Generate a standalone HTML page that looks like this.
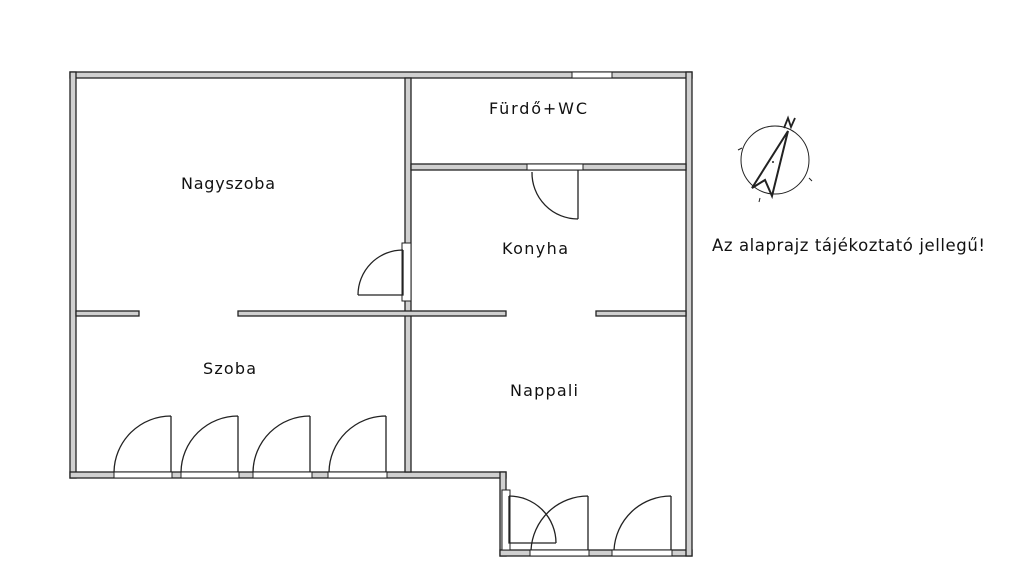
<!DOCTYPE html>
<html><head><meta charset="utf-8"><style>
html,body{margin:0;padding:0;background:#fff;}
svg{display:block;}
text{font-family:"DejaVu Sans","Liberation Sans",sans-serif;fill:#111;}
</style></head><body>
<svg width="1024" height="572" viewBox="0 0 1024 572" xmlns="http://www.w3.org/2000/svg">
<g fill="#d0d0d0" stroke="#222" stroke-width="1.3">
<rect x="70" y="72" width="622" height="6"/>
<rect x="70" y="72" width="6" height="406"/>
<rect x="70" y="472" width="436" height="6"/>
<rect x="500" y="472" width="6" height="84"/>
<rect x="500" y="550" width="192" height="6"/>
<rect x="686" y="72" width="6" height="484"/>
<rect x="405" y="78" width="6" height="394"/>
<rect x="411" y="164" width="275" height="6"/>
<rect x="76" y="311" width="63" height="5"/>
<rect x="238" y="311" width="268" height="5"/>
<rect x="596" y="311" width="90" height="5"/>
</g>
<g fill="#fff" stroke="#222" stroke-width="1">
<rect x="572" y="72" width="40" height="6"/>
<rect x="527" y="164" width="56" height="6"/>
<rect x="402" y="243" width="9" height="58"/>
<rect x="114" y="472" width="58" height="6"/>
<rect x="181" y="472" width="58" height="6"/>
<rect x="253" y="472" width="59" height="6"/>
<rect x="328" y="472" width="59" height="6"/>
<rect x="530" y="550" width="59" height="6"/>
<rect x="612" y="550" width="60" height="6"/>
<rect x="502" y="490" width="8" height="60"/>
</g>
<g fill="none" stroke="#222" stroke-width="1.3">
<path d="M358 295 H403 V250"/>
<path d="M358 295 A45 45 0 0 1 403 250"/>
<path d="M578 170 V219"/>
<path d="M532 172 A46 46 0 0 0 578 219"/>
<path d="M171 472 V416 M114 472 A57 57 0 0 1 171 416"/>
<path d="M238 472 V416 M181 472 A57 57 0 0 1 238 416"/>
<path d="M310 472 V416 M253 472 A57 57 0 0 1 310 416"/>
<path d="M386 472 V416 M329 472 A57 57 0 0 1 386 416"/>
<path d="M588 550 V496 M531 550 A57 57 0 0 1 588 496"/>
<path d="M671 550 V496 M614 550 A57 57 0 0 1 671 496"/>
<path d="M509 496 V543 H556"/>
<path d="M509 496 A47 47 0 0 1 556 543"/>
<circle cx="775" cy="160" r="34" stroke-width="1"/>
<path d="M788 131 L752 188 L765 180 L772 196 Z" stroke-width="2"/>
<path d="M784 128 L788 118 L791 127 L795 118" stroke-width="1.8"/>
<path d="M738 150 l4 -2 M809 178 l3 3 M760 198 l-1 4" stroke-width="1"/>
</g>
<circle cx="773" cy="162" r="1" fill="#222"/>
<text x="181" y="189" font-size="16" textLength="94">Nagyszoba</text>
<text x="489" y="114" font-size="16" textLength="98">Fürdő+WC</text>
<text x="502" y="254" font-size="16" textLength="66">Konyha</text>
<text x="203" y="374" font-size="16" textLength="53">Szoba</text>
<text x="510" y="396" font-size="16" textLength="68">Nappali</text>
<text x="712" y="251" font-size="16.5" textLength="273">Az alaprajz tájékoztató jellegű!</text>
</svg>
</body></html>
